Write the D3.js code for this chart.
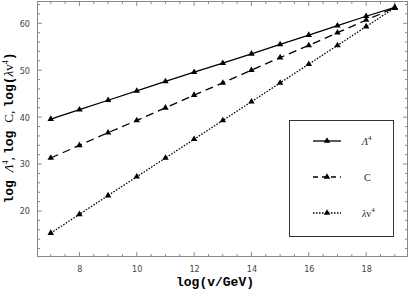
<!DOCTYPE html>
<html>
<head>
<meta charset="utf-8">
<script src="https://cdn.jsdelivr.net/npm/d3@7"></script>
<style>
  body { margin: 0; background: #fff; }
  .tick text { font-family: "Liberation Sans Narrow", "DejaVu Sans Condensed", sans-serif; font-size: 9px; fill: #444; }
  .mono { font-family: "Liberation Mono", "DejaVu Sans Mono", monospace; font-weight: bold; }
  .serif { font-family: "Liberation Serif", "DejaVu Serif", serif; font-weight: normal; }
</style>
</head>
<body>
<div id="chart"></div>
<script>
(function() {

  // log(v/GeV) values
  let logV = [7, 8, 9, 10, 11, 12, 13, 14, 15, 16, 17, 18, 19];
  // log Lambda^4
  let lambda4 = [39.6, 41.6, 43.6, 45.6, 47.6, 49.6, 51.5, 53.5, 55.5, 57.5, 59.5, 61.5, 63.4];
  // log C
  let cVals = [31.3, 34.0, 36.7, 39.3, 42.0, 44.7, 47.3, 50.0, 52.7, 55.3, 58.0, 60.7, 63.3];
  // log(lambda v^4)
  let lamV4 = [15.3, 19.3, 23.3, 27.3, 31.3, 35.3, 39.3, 43.3, 47.3, 51.3, 55.3, 59.3, 63.3];

  let xTicks = [8, 10, 12, 14, 16, 18];
  let yTicks = [20, 30, 40, 50, 60];

  let width = 409, height = 300;
  let margin = { top: 1, right: 1, bottom: 43, left: 37 };
  let w = width - margin.left - margin.right;
  let h = height - margin.top - margin.bottom;

  let svg = d3.select("#chart")
    .append("svg")
      .attr("width", width)
      .attr("height", height);

  let g = svg.append("g")
    .attr("transform", "translate(" + margin.left + "," + margin.top + ")");

  let xScale = d3.scaleLinear().domain([6.52, 19.46]).range([0, w]);
  let yScale = d3.scaleLinear().domain([10.2, 64.75]).range([h, 0]);

  // minor ticks on all four sides, pointing inward
  let xMinor = d3.range(7, 19.5, 0.5);
  let yMinor = d3.range(12, 65, 2);
  let frameColor = "#888";

  function minorTicks(sel, vals, scale, horiz, base, dir, len) {
    sel.selectAll(null)
      .data(vals)
      .enter()
      .append("line")
        .attr("x1", d => horiz ? scale(d) : base)
        .attr("x2", d => horiz ? scale(d) : base + dir * (yTicks.includes(d) ? len * 1.6 : len))
        .attr("y1", d => horiz ? base : scale(d))
        .attr("y2", d => horiz ? base + dir * (xTicks.includes(d) ? len * 1.6 : len) : scale(d))
        .attr("stroke", frameColor)
        .attr("stroke-width", 1);
  }

  let tg = g.append("g");
  minorTicks(tg, xMinor, xScale, true, h, -1, 3);
  minorTicks(tg, xMinor, xScale, true, 0, 1, 3);
  minorTicks(tg, yMinor, yScale, false, 0, 1, 3);
  minorTicks(tg, yMinor, yScale, false, w, -1, 3);

  // axes labels only (tick lines drawn above)
  g.append("g")
    .attr("transform", "translate(0," + h + ")")
    .call(d3.axisBottom(xScale).tickValues(xTicks).tickSize(0).tickPadding(9))
    .call(a => a.select(".domain").remove());

  g.append("g")
    .call(d3.axisLeft(yScale).tickValues(yTicks).tickSize(0).tickPadding(7))
    .call(a => a.select(".domain").remove());

  // frame
  g.append("rect")
    .attr("x", 0.5).attr("y", 0.5)
    .attr("width", w - 1).attr("height", h - 1)
    .attr("fill", "none")
    .attr("stroke", frameColor);

  let series = [
    { name: "lambda4", vals: lambda4, dash: null },
    { name: "C", vals: cVals, dash: "8,5" },
    { name: "lamv4", vals: lamV4, dash: "1.5,1.5" }
  ];

  let line = d3.line()
    .x((d, i) => xScale(logV[i]))
    .y(d => yScale(d));

  let tri = d3.symbol().type(d3.symbolTriangle).size(18);

  series.forEach(s => {
    g.append("path")
      .attr("d", line(s.vals))
      .attr("fill", "none")
      .attr("stroke", "#000")
      .attr("stroke-width", 1.3)
      .attr("stroke-dasharray", s.dash);

    g.selectAll(null)
      .data(s.vals)
      .enter()
      .append("path")
        .attr("d", tri)
        .attr("transform", (d, i) => "translate(" + xScale(logV[i]) + "," + yScale(d) + ")")
        .attr("fill", "#000");
  });

  // legend
  let leg = svg.append("g").attr("transform", "translate(289,120)");
  leg.append("rect")
    .attr("x", 0.5).attr("y", 0.5)
    .attr("width", 104).attr("height", 116)
    .attr("fill", "#fff")
    .attr("stroke", "#333");

  let rowsY = [21, 57, 93];
  series.forEach((s, i) => {
    leg.append("line")
      .attr("x1", 24).attr("x2", 52)
      .attr("y1", rowsY[i]).attr("y2", rowsY[i])
      .attr("stroke", "#000")
      .attr("stroke-width", 1.3)
      .attr("stroke-dasharray", i == 1 ? "5,4" : s.dash);
    leg.append("path")
      .attr("d", tri)
      .attr("transform", "translate(38," + rowsY[i] + ")");
  });

  let l1 = leg.append("text").attr("x", 73).attr("y", rowsY[0] + 4).attr("class", "serif").style("font-size", "10px").attr("fill", "#222");
  l1.append("tspan").style("font-style", "italic").text("Λ");
  l1.append("tspan").attr("dy", -5).style("font-size", "7px").text("4");

  leg.append("text").attr("x", 75).attr("y", rowsY[1] + 4).attr("class", "serif").style("font-size", "10px").attr("fill", "#222").text("C");

  let l3 = leg.append("text").attr("x", 73).attr("y", rowsY[2] + 4).attr("class", "serif").style("font-size", "10px").attr("fill", "#222");
  l3.append("tspan").style("font-style", "italic").text("λ");
  l3.append("tspan").text("v");
  l3.append("tspan").attr("dy", -5).style("font-size", "7px").text("4");

  // x axis title
  svg.append("text")
    .attr("class", "mono")
    .attr("x", 215)
    .attr("y", 286)
    .attr("text-anchor", "middle")
    .style("font-size", "13px")
    .text("log(v/GeV)");

  // y axis title
  let yl = svg.append("text")
    .attr("transform", "translate(13,128)rotate(-90)")
    .attr("text-anchor", "middle")
    .style("font-size", "13px");
  yl.append("tspan").attr("class", "mono").text("log ");
  yl.append("tspan").attr("class", "serif").style("font-style", "italic").text("Λ");
  yl.append("tspan").attr("class", "serif").attr("dy", -5).style("font-size", "8px").text("4");
  yl.append("tspan").attr("class", "serif").attr("dy", 5).text(", ");
  yl.append("tspan").attr("class", "mono").text("log ");
  yl.append("tspan").attr("class", "serif").text("C, ");
  yl.append("tspan").attr("class", "mono").text("log(");
  yl.append("tspan").attr("class", "serif").style("font-style", "italic").text("λ");
  yl.append("tspan").attr("class", "serif").text("v");
  yl.append("tspan").attr("class", "serif").attr("dy", -5).style("font-size", "8px").text("4");
  yl.append("tspan").attr("class", "mono").attr("dy", 5).text(")");

})();
</script>
</body>
</html>
